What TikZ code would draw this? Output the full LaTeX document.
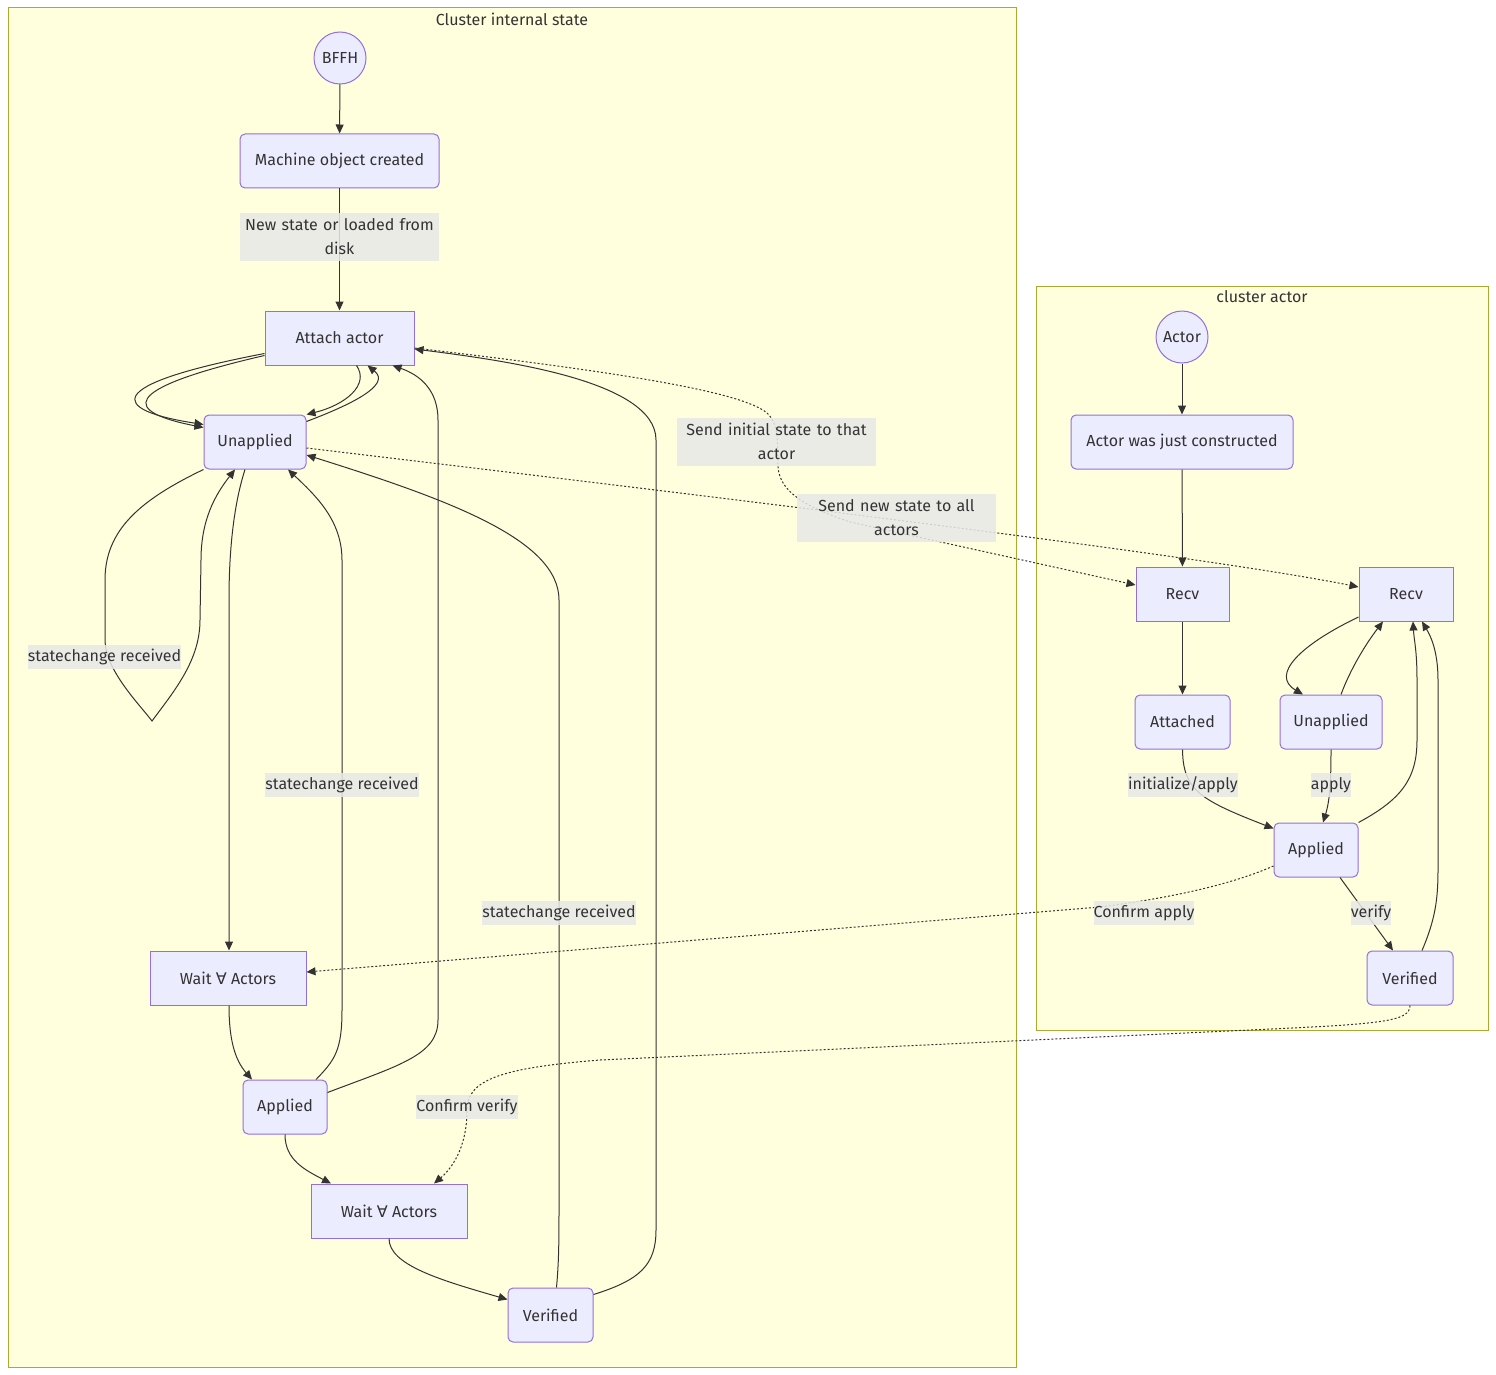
\documentclass[tikz,border=0pt]{standalone}
\usepackage{fontspec}
\setmainfont{Fira Sans}
\newfontfamily\symf{DejaVu Sans}
\usetikzlibrary{arrows.meta}
\definecolor{nfill}{HTML}{ECECFF}
\definecolor{nstroke}{HTML}{9370DB}
\definecolor{txt}{HTML}{333333}
\definecolor{cfill}{HTML}{FFFFDE}
\definecolor{cstroke}{HTML}{AAAA33}
\definecolor{lblbg}{HTML}{E8E8E8}
\tikzset{
  base/.style={draw=nstroke, fill=nfill, line width=1pt, text=txt, inner sep=0pt, minimum height=54pt, font=\fontsize{16}{24}\selectfont},
  sharpbox/.style={base, rectangle},
  roundbox/.style={base, rectangle, rounded corners=5pt},
  startcirc/.style={base, circle, minimum size=52pt},
  cluster/.style={draw=cstroke, fill=cfill, line width=1pt},
  ctitle/.style={text=txt, font=\fontsize{16}{24}\selectfont, inner sep=0pt},
  edge/.style={draw=txt, line width=1pt, -{Triangle[length=9pt,width=8pt]}},
  dotedge/.style={edge, dash pattern=on 2pt off 2pt},
  lbl/.style={fill=lblbg, fill opacity=0.85, text opacity=1, text=txt, inner sep=0pt, minimum height=24pt, font=\fontsize{16}{24}\selectfont},
  lbl2/.style={lbl, text width=199pt, align=center, minimum height=48pt},
}
\begin{document}
\begin{tikzpicture}[x=1pt,y=-1pt]
\useasboundingbox[fill=white] (0,0) rectangle (1496,1375);
% clusters
\draw[cluster] (8,8) rectangle (1016,1367);
\node[ctitle] (t1) at (512,19) {Cluster internal state};
\draw[cluster] (1036,286) rectangle (1488,1030);
\node[ctitle] (t2) at (1262,297) {cluster actor};

% left nodes
\node[startcirc] (bffh) at (340,58) {BFFH};
\node[roundbox, minimum width=199pt] (machine) at (339.5,161) {Machine object created};
\node[sharpbox, minimum width=149pt] (attach) at (339.5,338) {Attach actor};
\node[roundbox, minimum width=102pt] (unapplied) at (255,442) {Unapplied};
\node[sharpbox, minimum width=156pt] (wait1) at (228,978) {Wait {\symf ∀} Actors};
\node[roundbox, minimum width=84pt] (applied) at (285,1107) {Applied};
\node[sharpbox, minimum width=156pt] (wait2) at (389,1211) {Wait {\symf ∀} Actors};
\node[roundbox, minimum width=85pt] (verified) at (550.5,1315) {Verified};

% right nodes
\node[startcirc] (actor) at (1182,337) {Actor};
\node[roundbox, minimum width=222pt] (constructed) at (1182,442) {Actor was just constructed};
\node[sharpbox, minimum width=93pt] (recv1) at (1182.5,594) {Recv};
\node[sharpbox, minimum width=94pt] (recv2) at (1406,594) {Recv};
\node[roundbox, minimum width=95pt] (attached) at (1182.5,722) {Attached};
\node[roundbox, minimum width=102pt] (unappliedr) at (1331,722) {Unapplied};
\node[roundbox, minimum width=84pt] (appliedr) at (1316,850) {Applied};
\node[roundbox, minimum width=86pt] (verifiedr) at (1410,978) {Verified};

% left edges
\draw[edge] (bffh) -- (machine);
\draw[edge] (machine) -- (attach);
\draw[edge] ([yshift=12pt]attach.south west) .. controls (100,385) and (110,410) .. ([yshift=-10pt]unapplied.north west);
\draw[edge] ([yshift=10pt]attach.south west) .. controls (115,390) and (125,412) .. ([yshift=-13pt]unapplied.north west);
\draw[edge] ([xshift=17pt]attach.south) .. controls (370,385) and (345,405) .. (unapplied.north east);
\draw[edge] ([yshift=-7pt]unapplied.north east) .. controls (350,405) and (392,385) .. ([xshift=28pt]attach.south);
\draw[edge] (unapplied.south west) .. controls (140,500) and (105,530) .. (105,580) -- (105,640)
   .. controls (105,670) and (140,705) .. (152,721)
   .. controls (175,690) and (200,660) .. (200,620) -- (201,560)
   .. controls (201,520) and (215,495) .. ([xshift=-20pt]unapplied.south);
\draw[edge] ([xshift=-10pt]unapplied.south) .. controls (232,510) and (229,560) .. (229,600) -- ([xshift=1pt]wait1.north);
\draw[edge] ([xshift=1pt]wait1.south) .. controls (229,1040) and (235,1060) .. ([xshift=-33pt]applied.north);
\draw[edge] ([xshift=31pt]applied.north) .. controls (335,1060) and (342,1050) .. (342,1010) -- (342,560)
   .. controls (342,520) and (315,495) .. ([xshift=33pt]unapplied.south);
\draw[edge] ([yshift=-13pt]applied.north east) .. controls (400,1065) and (438,1055) .. (438,1020) -- (438,420)
   .. controls (438,390) and (420,375) .. ([xshift=53pt]attach.south);
\draw[edge] (applied.south) .. controls (285,1160) and (305,1170) .. ([xshift=-58pt]wait2.north);
\draw[edge] (wait2.south) .. controls (389,1265) and (440,1280) .. ([yshift=-12pt]verified.north west);
\draw[edge] ([xshift=6pt]verified.north) .. controls (559,1260) and (559,1240) .. (559,1200) -- (559,600)
   .. controls (559,540) and (450,500) .. ([yshift=-13pt]unapplied.east);
\draw[edge] ([yshift=-7pt]verified.north east) .. controls (640,1280) and (656,1265) .. (656,1230) -- (656,440)
   .. controls (656,380) and (500,360) .. ([yshift=-11pt]attach.east);

% dotted cross edges
\draw[dotedge] ([yshift=-10pt]attach.east) .. controls (600,370) and (740,390) .. (767,413)
   .. controls (780,425) and (777,445) .. (778,467)
   .. controls (780,490) and (800,505) .. (850,522) -- ([yshift=9pt]recv1.west);
\draw[dotedge] ([yshift=-6pt]unapplied.east) .. controls (700,495) and (1200,555) .. ([yshift=7pt]recv2.west);
\draw[dotedge] ([yshift=-16pt]appliedr.west) .. controls (1230,885) and (1170,898) .. (1100,907) -- ([yshift=6pt]wait1.east);
\draw[dotedge] (verifiedr.south) .. controls (1410,1022) and (1380,1024) .. (1250,1030) -- (600,1060)
   .. controls (500,1068) and (467,1080) .. (467,1110)
   .. controls (467,1150) and (450,1170) .. ([xshift=45pt]wait2.north);

% right edges
\draw[edge] (actor) -- (constructed);
\draw[edge] (constructed) -- (recv1);
\draw[edge] (recv1) -- (attached);
\draw[edge] ([yshift=-23pt]recv2.west) .. controls (1300,645) and (1270,675) .. ([xshift=-28pt]unappliedr.north);
\draw[edge] ([xshift=10pt]unappliedr.north) .. controls (1350,670) and (1365,645) .. ([xshift=-23pt]recv2.south);
\draw[edge] (attached.south) .. controls (1183,790) and (1200,800) .. ([yshift=-6pt]appliedr.north west);
\draw[edge] (unappliedr.south) .. controls (1331,780) and (1330,800) .. ([xshift=7pt]appliedr.north);
\draw[edge] (appliedr.north east) .. controls (1400,800) and (1417,780) .. (1417,740) -- (1417,680)
   .. controls (1417,650) and (1414,640) .. ([xshift=7pt]recv2.south);
\draw[edge] ([xshift=24pt]appliedr.south) -- ([xshift=-17pt]verifiedr.north);
\draw[edge] ([xshift=12pt]verifiedr.north) .. controls (1435,920) and (1438,900) .. (1438,870) -- (1438,680)
   .. controls (1438,650) and (1430,635) .. ([xshift=16pt]recv2.south);

% labels
\node[lbl2] (lnew) at (339.5,237) {New state or loaded from\\disk};
\node[lbl] (lsc1) at (104.5,657) {statechange received};
\node[lbl] (lsc2) at (342,785) {statechange received};
\node[lbl] (lsc3) at (559,913) {statechange received};
\node[lbl2] (linit) at (776.5,441.5) {Send initial state to that\\actor};
\node[lbl2] (lall) at (896.5,517.5) {Send new state to all\\actors};
\node[lbl] (lia) at (1183,785) {initialize/apply};
\node[lbl] (lapply) at (1331,785) {apply};
\node[lbl] (lcap) at (1144,913) {Confirm apply};
\node[lbl] (lver) at (1371,913) {verify};
\node[lbl] (lcv) at (467,1107) {Confirm verify};
\end{tikzpicture}
\end{document}
